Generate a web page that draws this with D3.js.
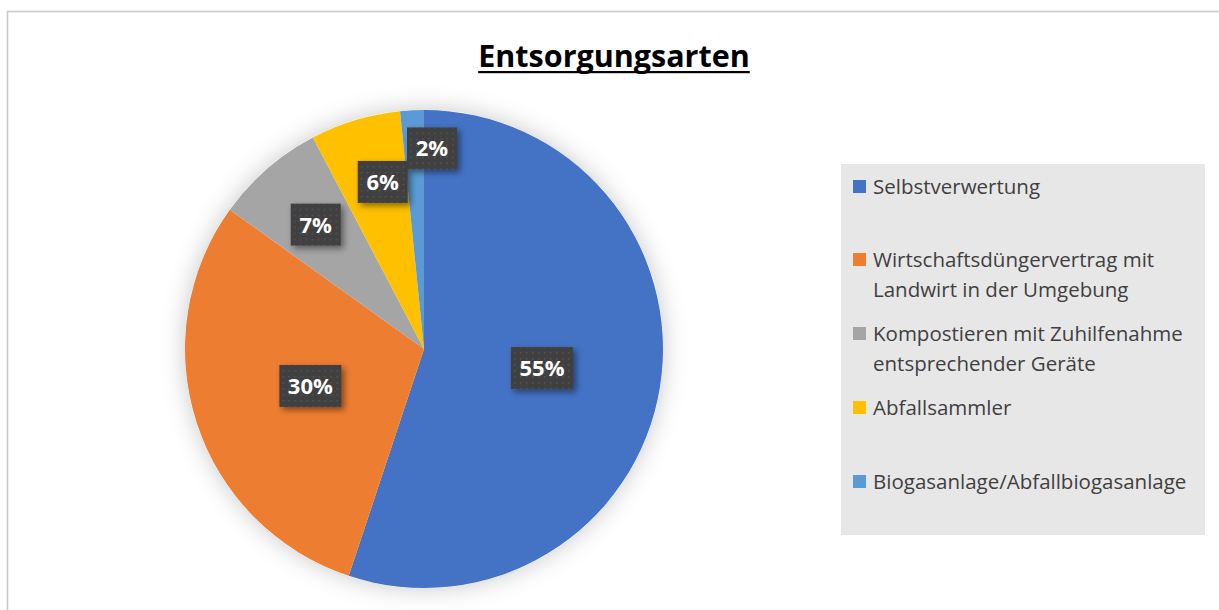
<!DOCTYPE html>
<html>
<head>
<meta charset="utf-8">
<script src="https://cdn.jsdelivr.net/npm/d3@7"></script>
<style>
  html, body { margin: 0; padding: 0; background: #fff; }
  svg { display: block; }
</style>
</head>
<body>
<script>
// Daten
var categories = [
  "Selbstverwertung",
  "Wirtschaftsdüngervertrag mit Landwirt in der Umgebung",
  "Kompostieren mit Zuhilfenahme entsprechender Geräte",
  "Abfallsammler",
  "Biogasanlage/Abfallbiogasanlage"
];
var legendLines = [
  ["Selbstverwertung"],
  ["Wirtschaftsdüngervertrag mit", "Landwirt in der Umgebung"],
  ["Kompostieren mit Zuhilfenahme", "entsprechender Geräte"],
  ["Abfallsammler"],
  ["Biogasanlage/Abfallbiogasanlage"]
];
var values = [55.1, 29.8, 7.4, 6.1, 1.6];
var colors = ["#4472C4", "#ED7D31", "#A5A5A5", "#FFC000", "#5B9BD5"];
var title = "Entsorgungsarten";

var width = 1219, height = 610;
var cx = 424, cy = 349, r = 239;
var font = "'Open Sans', 'Noto Sans', sans-serif";

var svg = d3.select("body").append("svg")
  .attr("width", width)
  .attr("height", height);

var defs = svg.append("defs");

// weicher Schatten um die Torte
var glow = defs.append("filter").attr("id", "glow")
  .attr("x", "-20%").attr("y", "-20%").attr("width", "140%").attr("height", "140%");
glow.append("feDropShadow").attr("dx", 0).attr("dy", 0)
  .attr("stdDeviation", 12).attr("flood-color", "#000").attr("flood-opacity", 0.22);

// Schatten der Beschriftungsboxen
var shadow = defs.append("filter").attr("id", "boxshadow")
  .attr("x", "-30%").attr("y", "-30%").attr("width", "170%").attr("height", "170%");
shadow.append("feDropShadow").attr("dx", 3).attr("dy", 3)
  .attr("stdDeviation", 3).attr("flood-color", "#000").attr("flood-opacity", 0.45);

// Punktmuster der Boxen
var pat = defs.append("pattern").attr("id", "dots")
  .attr("width", 6).attr("height", 6).attr("patternUnits", "userSpaceOnUse");
pat.append("rect").attr("width", 6).attr("height", 6).attr("fill", "#404040");
pat.append("rect").attr("x", 2).attr("y", 2).attr("width", 1.5).attr("height", 1.5).attr("fill", "#555");

// Rahmen
svg.append("path")
  .attr("d", "M7.5," + height + "V11.5H" + width)
  .attr("fill", "none")
  .attr("stroke", "#c8c8c8")
  .attr("stroke-width", 1.5);

// Titel
var titleText = svg.append("text")
  .attr("x", 614)
  .attr("y", 67)
  .attr("text-anchor", "middle")
  .style("font-family", font)
  .style("font-weight", "bold")
  .style("font-size", "30.5px")
  .style("fill", "#000")
  .text(title);
var tb = titleText.node().getBBox();
svg.append("rect")
  .attr("x", tb.x)
  .attr("y", 71)
  .attr("width", tb.width)
  .attr("height", 2.2)
  .attr("fill", "#000");

// Torte
var pie = d3.pie().sort(null).value(function (d) { return d; });
var arcs = pie(values);
var arc = d3.arc().innerRadius(0).outerRadius(r);

var g = svg.append("g").attr("transform", "translate(" + cx + "," + cy + ")");
g.append("circle").attr("r", r).attr("fill", "#fff").attr("filter", "url(#glow)");
g.selectAll("path.slice")
  .data(arcs)
  .enter()
  .append("path")
  .attr("class", "slice")
  .attr("d", arc)
  .attr("fill", function (d, i) { return colors[i]; });

// Beschriftungen (Best-Fit Lage)
var labelRadius = [0.5, 0.5, 0.69, 0.72, 0.84];
var labelShift = [0, 0, 0, 0.05, 0.09];
var boxW = [62, 62, 50, 50, 50], boxH = 42;

var labels = g.selectAll("g.lbl")
  .data(arcs)
  .enter()
  .append("g")
  .attr("class", "lbl")
  .attr("transform", function (d, i) {
    var a = (d.startAngle + d.endAngle) / 2 + labelShift[i];
    var rr = r * labelRadius[i];
    return "translate(" + (Math.sin(a) * rr) + "," + (-Math.cos(a) * rr) + ")";
  });
labels.append("rect")
  .attr("x", function (d, i) { return -boxW[i] / 2; })
  .attr("y", -boxH / 2)
  .attr("width", function (d, i) { return boxW[i]; })
  .attr("height", boxH)
  .attr("fill", "url(#dots)")
  .attr("filter", "url(#boxshadow)");
labels.append("text")
  .attr("text-anchor", "middle")
  .attr("dy", "0.36em")
  .style("font-family", font)
  .style("font-weight", "bold")
  .style("font-size", "22px")
  .style("fill", "#fff")
  .text(function (d) { return Math.round(d.value) + "%"; });

// Legende
svg.append("rect")
  .attr("x", 841).attr("y", 164)
  .attr("width", 364).attr("height", 371)
  .attr("fill", "#e7e7e7");

var itemY = [187, 260, 334, 408, 482];
var lineH = 29.5;
var leg = svg.selectAll("g.leg")
  .data(categories)
  .enter()
  .append("g")
  .attr("class", "leg")
  .attr("transform", function (d, i) { return "translate(853," + itemY[i] + ")"; });
leg.append("rect")
  .attr("x", 0).attr("y", -7)
  .attr("width", 13).attr("height", 13)
  .attr("fill", function (d, i) { return colors[i]; });
leg.each(function (d, i) {
  var t = d3.select(this).append("text")
    .attr("x", 20)
    .attr("y", 0)
    .style("font-family", font)
    .style("font-size", "20.5px")
    .style("fill", "#404040");
  legendLines[i].forEach(function (line, j) {
    t.append("tspan")
      .attr("x", 20)
      .attr("y", j * lineH)
      .attr("dy", "0.35em")
      .text(line);
  });
});
</script>
</body>
</html>
